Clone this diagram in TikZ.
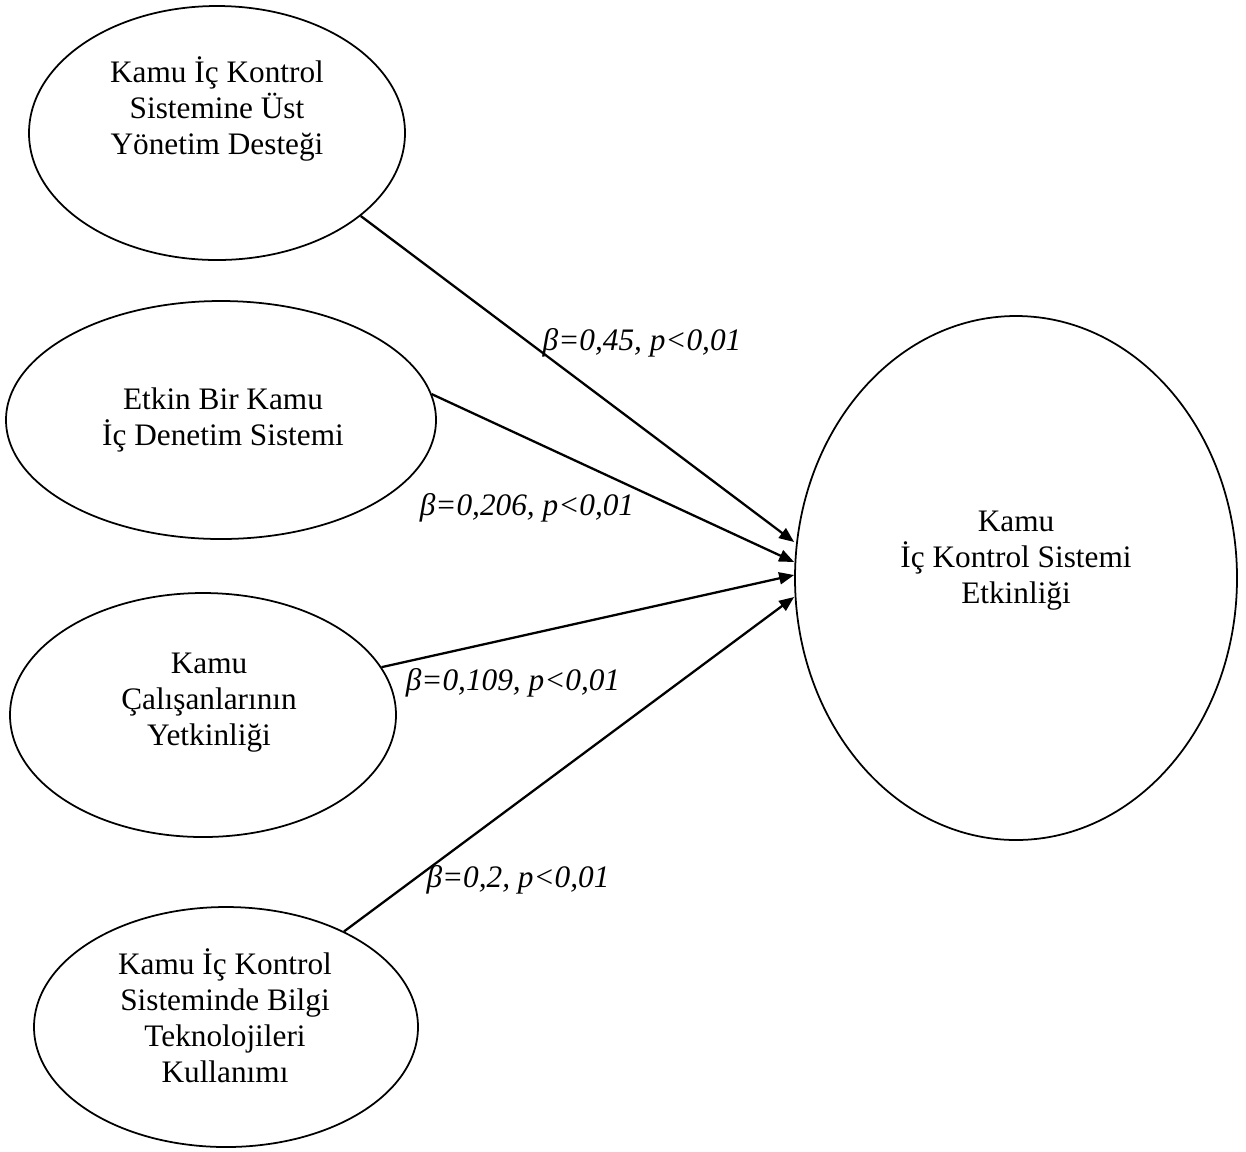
\documentclass[tikz,border=0pt]{standalone}
\usepackage{fontspec}
\setmainfont{Liberation Serif}
\usepackage{tikz}
\usetikzlibrary{calc}
\usetikzlibrary{arrows.meta}
\usetikzlibrary{shapes.geometric}
\tikzset{latent/.style = {shape=ellipse,draw,line width=1pt,inner sep=0pt}}
\tikzset{caption/.style = {align=center,font=\fontsize{17.8}{20.5}\selectfont}}
\tikzset{effect/.style = {-{Triangle[length=0.3cm,width=0.24cm]},line width=1.3pt}}
\tikzset{coef/.style = {anchor=base,font=\fontsize{17.8}{20.5}\selectfont\itshape}}

\begin{document}
\begin{tikzpicture}
            \useasboundingbox (0,0) rectangle (24.92,-23.02);

            % Constructs
            \node[latent,minimum width=7.52cm,minimum height=5.08cm] (sup) at (4.34,-2.66) {};
            \node[latent,minimum width=8.60cm,minimum height=4.76cm] (etk) at (4.42,-8.40) {};
            \node[latent,minimum width=7.72cm,minimum height=4.88cm] (cal) at (4.06,-14.30) {};
            \node[latent,minimum width=7.68cm,minimum height=4.80cm] (tek) at (4.52,-20.54) {};
            \node[latent,minimum width=8.84cm,minimum height=10.48cm] (eff) at (20.32,-11.56) {};

            % Texts
            \node[caption] (supT) at (4.34,-2.18) {Kamu İç Kontrol\\Sistemine Üst\\Yönetim Desteği};
            \node[caption] (etkT) at (4.46,-8.40) {Etkin Bir Kamu\\İç Denetim Sistemi};
            \node[caption] (calT) at (4.18,-14.06) {Kamu\\Çalışanlarının\\Yetkinliği};
            \node[caption] (tekT) at (4.50,-20.32) {Kamu İç Kontrol\\Sisteminde Bilgi\\Teknolojileri\\Kullanımı};
            \node[caption] (effT) at (20.32,-11.22) {Kamu\\İç Kontrol Sistemi\\Etkinliği};

            % Paths
            \draw[effect] (sup.-30) to ($(eff.west)+(0,0.72)$);
            \draw[effect] (etk.7) to ($(eff.west)+(0,0.32)$);
            \draw[effect] (cal.15) to ($(eff.west)+(0,0.06)$);
            \draw[effect] (tek.39) to ($(eff.west)+(0,-0.38)$);

            % Coefficients
            \node[coef] (b1) at (12.84,-7.00) {β=0,45, p<0,01};
            \node[coef] (b2) at (10.54,-10.30) {β=0,206, p<0,01};
            \node[coef] (b3) at (10.26,-13.80) {β=0,109, p<0,01};
            \node[coef] (b4) at (10.36,-17.74) {β=0,2, p<0,01};

        \end{tikzpicture}
\end{document}
